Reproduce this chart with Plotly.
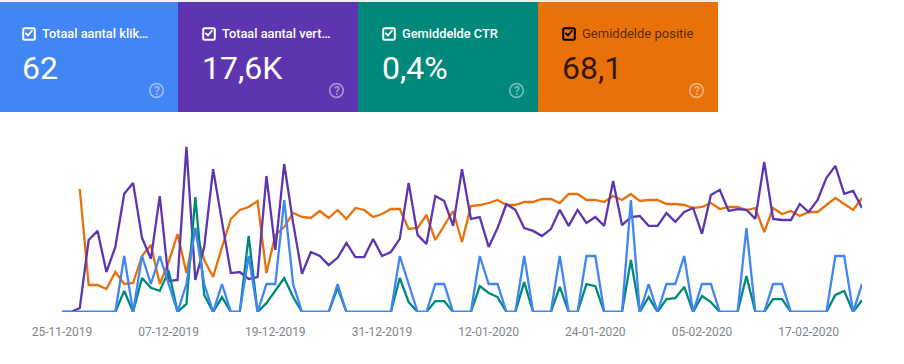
import pandas as pd
import plotly.graph_objects as go

W, H = 904, 364

START_DATE = "2019-11-25"
TICK_DATES = ["2019-11-25", "2019-12-07", "2019-12-19", "2019-12-31",
              "2020-01-12", "2020-01-24", "2020-02-05", "2020-02-17"]

clicks = [0,0,0,0,0,0,0,2,0,2, 1,2,1,0,1,3,1,0,1,0,
          0,2,0,1,1,4,1,0,0,0, 0,1,0,0,0,0,0,0,2,1,
          0,0,1,1,0,0,0,2,1,1, 0,0,2,0,0,0,2,0,0,2,
          2,0,0,0,4,0,1,0,1,1, 2,0,1,1,0,0,0,3,0,0,
          1,1,0,0,0,0,0,2,2,0, 1]

impressions = [0,0,11,198,223,110,179,325,355,204,
               146,319,85,88,454,88,179,393,248,107,
               110,91,96,374,171,407,245,105,165,154,
               129,149,190,151,151,201,154,165,201,355,
               212,187,319,305,237,393,256,261,179,231,
               297,281,231,223,209,228,281,237,281,245,
               261,237,360,239,261,264,237,237,272,248,
               275,286,215,322,336,278,283,281,256,413,
               256,253,253,297,275,308,369,402,325,333,
               286]

ctr = [0,0,0,0,0,0,0,.62,0,1.0,
       .71,.62,1.21,0,.24,3.38,.5,0,.44,0,
       0,2.24,0,.26,.62,1.0,.44,0,0,0,
       0,.71,0,0,0,0,0,0,1.0,.29,
       0,0,.32,.32,0,0,0,.76,.56,.44,
       0,0,.88,0,0,0,.74,0,0,.82,
       .76,0,0,0,1.53,0,.44,0,.38,.41,
       .74,0,.47,.29,0,0,0,1.06,0,0,
       .38,.38,0,0,0,0,0,.5,.62,0,
       .35]

position = [None,None,56.5,104.5,104.5,106.5,98,104,103.5,90,
            84.5,104,93,79,98.5,76,92,100.5,85.5,71.5,
            67,65.5,62.5,98.5,79.5,75.5,68.5,70.5,71,67.5,
            71,67,71.5,66,67,70.5,69,66.5,66.5,76.5,
            76,69.5,82,75,67.5,83,65,64.5,63.5,62,
            64.5,64.5,63,63,61.5,61.5,63.5,59,59,62,
            62,63,60,62,59,62.5,62,62,64,64,
            64.5,66,65.5,63.5,66.5,65.5,65.5,67,66,78,
            66,69,67.5,70,68,68,64.5,61,64,67,
            61]

dates = pd.date_range(START_DATE, periods=len(clicks))

card_labels = ["Totaal aantal klik…", "Totaal aantal vert…", "Gemiddelde CTR", "Gemiddelde positie"]
card_values = ["62", "17,6K", "0,4%", "68,1"]
card_colors = ["#4285f4", "#5e35b1", "#00897b", "#e8710a"]
card_edges = [0, 178, 358, 538, 718]
card_origins = [-2, 178, 358, 538]

C_CLICK, C_IMP, C_CTR, C_POS = card_colors
PLOT_L, PLOT_R, PLOT_T, PLOT_B = 62, 862, 140, 312


def px(x):
    return x / W


def py(y):
    return 1 - y / H


def rounded_box(x0, x1, y0, y1, r=1.5):
    return (f"M {px(x0 + r)} {py(y0)} L {px(x1 - r)} {py(y0)} Q {px(x1)} {py(y0)} {px(x1)} {py(y0 + r)} "
            f"L {px(x1)} {py(y1 - r)} Q {px(x1)} {py(y1)} {px(x1 - r)} {py(y1)} "
            f"L {px(x0 + r)} {py(y1)} Q {px(x0)} {py(y1)} {px(x0)} {py(y1 - r)} "
            f"L {px(x0)} {py(y0 + r)} Q {px(x0)} {py(y0)} {px(x0 + r)} {py(y0)} Z")


fig = go.Figure()
# Later overlaying axes draw on top, so the axis order sets the stacking order.
series = [(position, C_POS, "y"), (impressions, C_IMP, "y2"), (ctr, C_CTR, "y3"), (clicks, C_CLICK, "y4")]
for vals, col, ax in series:
    fig.add_trace(go.Scatter(x=dates, y=vals, mode="lines", yaxis=ax, cliponaxis=False,
                             line=dict(color=col, width=2.3), hoverinfo="skip", showlegend=False))

shapes, annots = [], []
FONT = "Roboto, sans-serif"
shapes.append(dict(type="rect", xref="paper", yref="paper", x0=0, x1=px(718), y0=py(2), y1=py(0),
                   fillcolor="#f1f1f1", line_width=0, layer="below"))
for i, (lab, val, col) in enumerate(zip(card_labels, card_values, card_colors)):
    x0, x1 = card_edges[i], card_edges[i + 1]
    org = card_origins[i]
    dark = i == 3
    fg = "rgba(0,0,0,0.65)" if dark else "#ffffff"
    mark = "#000000" if dark else "#ffffff"
    shapes.append(dict(type="rect", xref="paper", yref="paper", x0=px(x0), x1=px(x1), y0=py(112), y1=py(2),
                       fillcolor=col, line_width=0, layer="below"))
    shapes.append(dict(type="path", xref="paper", yref="paper",
                       path=rounded_box(org + 25.2, org + 36.8, 28.3, 39.7),
                       line=dict(color=mark, width=2), layer="above"))
    path = f"M {px(org + 27.4)} {py(32.8)} L {px(org + 30)} {py(35.4)} L {px(org + 34.4)} {py(30.3)}"
    shapes.append(dict(type="path", xref="paper", yref="paper", path=path,
                       line=dict(color=mark, width=1.7), layer="above"))
    annots.append(dict(x=px(org + 42), y=py(33.5), xref="paper", yref="paper", text=lab, showarrow=False,
                       xanchor="left", yanchor="middle",
                       font=dict(family=FONT, size=13 if dark else 12.8, color=fg, weight=400 if dark else 500)))
    annots.append(dict(x=px(org + 21.5), y=py(68), xref="paper", yref="paper", text=val, showarrow=False,
                       xanchor="left", yanchor="middle",
                       font=dict(family=FONT, size=32, color=fg if not dark else "rgba(0,0,0,0.8)", weight=400)))
    cx, cy = org + 158.5, 90.5
    ic = "rgba(255,255,255,0.45)"
    shapes.append(dict(type="circle", xref="paper", yref="paper", x0=px(cx - 6.8), x1=px(cx + 6.8),
                       y0=py(cy + 6.8), y1=py(cy - 6.8), fillcolor="rgba(0,0,0,0)",
                       line=dict(color=ic, width=1.7), layer="above"))
    annots.append(dict(x=px(cx), y=py(cy), xref="paper", yref="paper", text="?", showarrow=False,
                       xanchor="center", yanchor="middle",
                       font=dict(family=FONT, size=12, color=ic, weight=700)))

hidden = dict(visible=False, domain=[py(PLOT_B), py(PLOT_T)], fixedrange=True)
fig.update_layout(
    width=W, height=H, margin=dict(l=0, r=0, t=0, b=0, autoexpand=False), autosize=False,
    paper_bgcolor="#ffffff", plot_bgcolor="#ffffff", showlegend=False,
    shapes=shapes, annotations=annots,
    xaxis=dict(domain=[px(PLOT_L), px(PLOT_R)], range=[dates[0], dates[-1]], showgrid=False, zeroline=False,
               showline=False, tickmode="array", tickvals=TICK_DATES, tickformat="%d-%m-%Y",
               ticks="outside", ticklen=9, tickcolor="rgba(0,0,0,0)",
               tickfont=dict(family=FONT, size=12, color="#80868b")),
    yaxis=dict(hidden, range=[118, 32], anchor="x"),
    yaxis2=dict(hidden, range=[0, 473], overlaying="y", anchor="x"),
    yaxis3=dict(hidden, range=[0, 172 / 34], overlaying="y", anchor="x"),
    yaxis4=dict(hidden, range=[0, 172 / 28], overlaying="y", anchor="x"),
)
fig.write_html("out.html", config={"displayModeBar": False},
               post_script="document.body.style.margin='0';document.body.style.overflow='hidden';")
